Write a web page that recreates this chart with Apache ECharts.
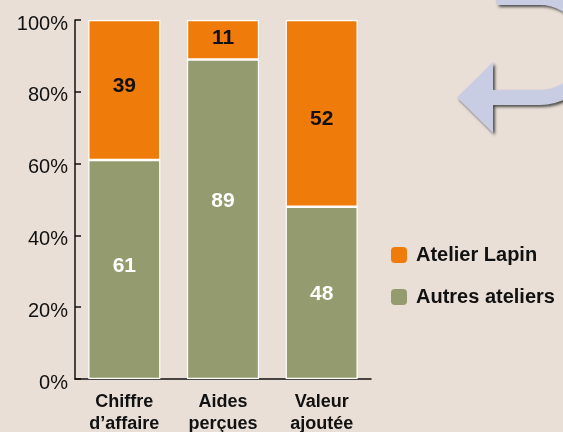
<!DOCTYPE html>
<html>
<head>
<meta charset="utf-8">
<script src="https://cdn.jsdelivr.net/npm/echarts@6/dist/echarts.min.js"></script>
<style>
  html, body { margin: 0; padding: 0; background: #e9dfd7; }
  #chart { width: 563px; height: 432px; }
</style>
</head>
<body>
<div id="chart"></div>
<script>
// données
const categories = ['Chiffre\nd’affaire', 'Aides\nperçues', 'Valeur\najoutée'];
const lapin = [39, 11, 52];
const autres = [61, 89, 48];
const yTicks = [0, 20, 40, 60, 80, 100];

const font = '"Liberation Sans", Arial, Helvetica, sans-serif';

// décalage vertical des étiquettes (style seulement)
const autresLabelShift = [-3, -18, 1];
const lapinLabelShift = [-4, -2, 6];

// contour de la flèche décorative (demi-tour), en pixels
function arrowOutline() {
  const cx = 540, cy = 47.5, rOut = 57.5, rIn = 42.5;
  const pts = [[495, cy - rOut]];
  for (let i = 0; i <= 24; i++) {
    const a = -Math.PI / 2 + Math.PI * i / 24;
    pts.push([cx + rOut * Math.cos(a), cy + rOut * Math.sin(a)]);
  }
  pts.push([493, 105], [493, 133], [457, 97.5], [493, 62], [493, 90]);
  for (let i = 0; i <= 24; i++) {
    const a = Math.PI / 2 - Math.PI * i / 24;
    pts.push([cx + rIn * Math.cos(a), cy + rIn * Math.sin(a)]);
  }
  pts.push([497, cy - rIn]);
  return pts;
}

const withShift = (values, shifts) =>
  values.map((v, i) => ({ value: v, label: { offset: [0, shifts[i]] } }));

const chart = echarts.init(document.getElementById('chart'), null, { renderer: 'canvas' });

const option = {
  backgroundColor: '#e9dfd7',
  animation: false,
  textStyle: { fontFamily: font },
  grid: { left: 75, top: 20, right: 192, bottom: 53, containLabel: false, outerBoundsMode: 'none' },
  legend: {
    orient: 'vertical',
    left: 386,
    top: 240,
    itemGap: 22,
    itemWidth: 16,
    itemHeight: 16,
    icon: 'roundRect',
    itemStyle: { borderWidth: 0 },
    data: ['Atelier Lapin', 'Autres ateliers'],
    textStyle: { fontFamily: font, fontSize: 20, fontWeight: 'bold', color: '#111', padding: [0, 0, 0, 4] }
  },
  xAxis: {
    type: 'category',
    data: categories,
    axisLine: { lineStyle: { color: '#111', width: 1.5 } },
    axisTick: { inside: true, length: 8, lineStyle: { color: '#111', width: 1.5 } },
    axisLabel: {
      fontFamily: font, fontSize: 18, fontWeight: 'bold', color: '#111',
      lineHeight: 22, margin: 12
    }
  },
  yAxis: {
    type: 'value',
    min: yTicks[0],
    max: yTicks[yTicks.length - 1],
    interval: 20,
    splitLine: { show: false },
    axisLine: { show: true, lineStyle: { color: '#111', width: 1.5 } },
    axisTick: { show: true, inside: true, length: 6, lineStyle: { color: '#111', width: 1.5 } },
    axisLabel: {
      fontFamily: font, fontSize: 20, color: '#111', margin: 7,
      verticalAlign: 'top', lineHeight: 8, formatter: '{value}%'
    }
  },
  series: [
    {
      name: 'Autres ateliers',
      type: 'bar',
      stack: 'total',
      data: withShift(autres, autresLabelShift),
      barWidth: '73%',
      itemStyle: { color: '#949b6e', borderColor: '#ffffff', borderWidth: 1.2 },
      label: { show: true, position: 'inside', color: '#ffffff', fontFamily: font, fontSize: 21, fontWeight: 'bold' }
    },
    {
      name: 'Atelier Lapin',
      type: 'bar',
      stack: 'total',
      data: withShift(lapin, lapinLabelShift),
      barWidth: '73%',
      itemStyle: { color: '#ef7b0a', borderColor: '#ffffff', borderWidth: 1.2 },
      label: { show: true, position: 'inside', color: '#111', fontFamily: font, fontSize: 21, fontWeight: 'bold' }
    }
  ],
  graphic: [
    {
      type: 'polygon',
      shape: { points: arrowOutline() },
      style: {
        fill: '#c9cde3',
        shadowBlur: 3,
        shadowColor: 'rgba(40,40,40,0.8)',
        shadowOffsetX: 2,
        shadowOffsetY: 2
      },
      z: 0
    }
  ]
};

chart.setOption(option);
</script>
</body>
</html>
